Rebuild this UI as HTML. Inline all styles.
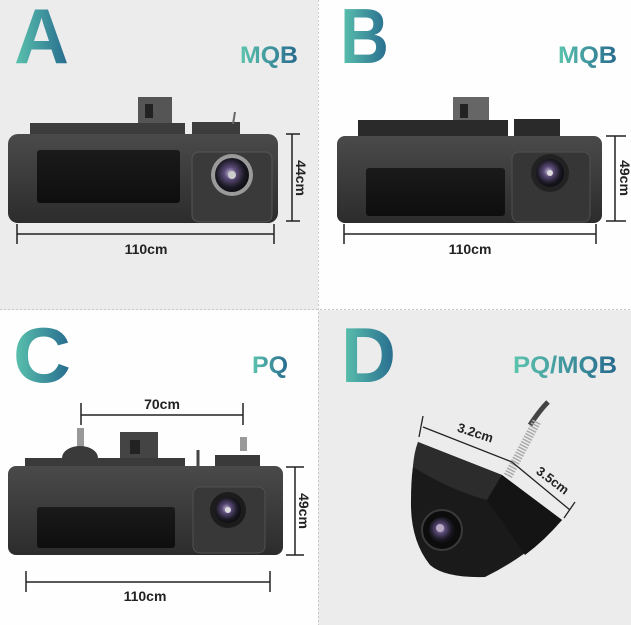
<!DOCTYPE html>
<html><head><meta charset="utf-8"><style>
html,body{margin:0;padding:0;background:#fff}
svg{display:block}
text{font-family:"Liberation Sans",sans-serif;font-weight:bold}
</style></head><body>
<svg width="631" height="625" viewBox="0 0 631 625" xmlns="http://www.w3.org/2000/svg">
<defs>
<linearGradient id="tg" x1="0" y1="0" x2="1" y2="0">
<stop offset="0" stop-color="#5cc4ae"/><stop offset="1" stop-color="#266a8e"/></linearGradient>
<radialGradient id="lens" cx="0.45" cy="0.45" r="0.6">
<stop offset="0" stop-color="#c8c0d8"/><stop offset="0.3" stop-color="#5a4a78"/><stop offset="0.7" stop-color="#1a1822"/><stop offset="1" stop-color="#0a0a0e"/></radialGradient>
<linearGradient id="bodyg" x1="0" y1="0" x2="0" y2="1">
<stop offset="0" stop-color="#4a4a4a"/><stop offset="1" stop-color="#2c2c2c"/></linearGradient>
<linearGradient id="recg" x1="0" y1="0" x2="0" y2="1">
<stop offset="0" stop-color="#1a1a1a"/><stop offset="1" stop-color="#0e0e0e"/></linearGradient>
</defs>
<rect x="0" y="0" width="318" height="310" fill="#ececec"/>
<rect x="318" y="0" width="313" height="310" fill="#fefefe"/>
<rect x="0" y="310" width="318" height="315" fill="#fefefe"/>
<rect x="318" y="310" width="313" height="315" fill="#ececec"/>
<line x1="318.5" y1="0" x2="318.5" y2="625" stroke="#c8c8c8" stroke-dasharray="2,2"/>
<line x1="0" y1="309.5" x2="631" y2="309.5" stroke="#c8c8c8" stroke-dasharray="2,2"/>

<!-- Letters -->
<text x="14" y="63" font-size="78" fill="url(#tg)" textLength="55" lengthAdjust="spacingAndGlyphs">A</text>
<text x="340" y="63" font-size="78" fill="url(#tg)" textLength="49" lengthAdjust="spacingAndGlyphs">B</text>
<text x="13" y="382" font-size="78" fill="url(#tg)" textLength="58" lengthAdjust="spacingAndGlyphs">C</text>
<text x="341" y="382" font-size="78" fill="url(#tg)" textLength="55" lengthAdjust="spacingAndGlyphs">D</text>
<text x="240" y="63" font-size="24" fill="url(#tg)" textLength="58" lengthAdjust="spacingAndGlyphs">MQB</text>
<text x="558" y="63" font-size="24" fill="url(#tg)" textLength="59" lengthAdjust="spacingAndGlyphs">MQB</text>
<text x="252" y="373" font-size="24" fill="url(#tg)" textLength="36" lengthAdjust="spacingAndGlyphs">PQ</text>
<text x="513" y="373" font-size="24" fill="url(#tg)" textLength="104" lengthAdjust="spacingAndGlyphs">PQ/MQB</text>

<!-- A handle -->
<g>
<rect x="138" y="97" width="34" height="30" fill="#555"/>
<rect x="145" y="104" width="8" height="14" fill="#222"/>
<rect x="30" y="123" width="155" height="14" fill="#3c3c3c"/>
<rect x="192" y="122" width="48" height="15" fill="#3c3c3c"/>
<line x1="235" y1="112" x2="233" y2="124" stroke="#666" stroke-width="2"/>
<rect x="8" y="134" width="270" height="89" rx="10" fill="url(#bodyg)"/>
<rect x="37" y="150" width="143" height="53" rx="3" fill="url(#recg)"/>
<rect x="192" y="152" width="80" height="70" rx="7" fill="#3a3a3a" stroke="#555"/>
<circle cx="232" cy="175" r="21" fill="#9a9a9a"/>
<circle cx="232" cy="175" r="17" fill="url(#lens)"/>
<circle cx="232" cy="175" r="4" fill="#ccc"/>
</g>
<g stroke="#222" stroke-width="1.5" fill="none">
<line x1="292" y1="134" x2="292" y2="221"/><line x1="286" y1="134" x2="300" y2="134"/><line x1="286" y1="221" x2="300" y2="221"/>
<line x1="17" y1="234" x2="274" y2="234"/><line x1="17" y1="224" x2="17" y2="244"/><line x1="274" y1="224" x2="274" y2="244"/>
</g>
<text x="146" y="254" font-size="14" fill="#222" text-anchor="middle">110cm</text>
<text transform="translate(296,178) rotate(90)" font-size="14" fill="#222" text-anchor="middle">44cm</text>

<!-- B handle -->
<g>
<rect x="453" y="97" width="36" height="28" fill="#666"/>
<rect x="460" y="104" width="8" height="14" fill="#222"/>
<rect x="358" y="120" width="150" height="17" fill="#2a2a2a"/>
<rect x="514" y="119" width="46" height="18" fill="#2a2a2a"/>
<rect x="337" y="136" width="265" height="87" rx="8" fill="url(#bodyg)"/>
<rect x="366" y="168" width="139" height="48" rx="3" fill="url(#recg)"/>
<rect x="512" y="152" width="78" height="70" rx="7" fill="#363636" stroke="#505050"/>
<circle cx="550" cy="173" r="19" fill="#222"/>
<circle cx="550" cy="173" r="14" fill="url(#lens)"/>
<circle cx="550" cy="173" r="3" fill="#ddd"/>
</g>
<g stroke="#222" stroke-width="1.5" fill="none">
<line x1="615" y1="136" x2="615" y2="221"/><line x1="606" y1="136" x2="626" y2="136"/><line x1="606" y1="221" x2="626" y2="221"/>
<line x1="344" y1="234" x2="596" y2="234"/><line x1="344" y1="224" x2="344" y2="244"/><line x1="596" y1="224" x2="596" y2="244"/>
</g>
<text x="470" y="254" font-size="14" fill="#222" text-anchor="middle">110cm</text>
<text transform="translate(620,178) rotate(90)" font-size="14" fill="#222" text-anchor="middle">49cm</text>

<!-- C handle -->
<g>
<rect x="77" y="428" width="7" height="20" fill="#999"/>
<rect x="240" y="437" width="7" height="14" fill="#999"/>
<ellipse cx="80" cy="458" rx="18" ry="12" fill="#3a3a3a"/>
<rect x="120" y="432" width="38" height="36" fill="#444"/>
<rect x="130" y="440" width="10" height="14" fill="#222"/>
<rect x="25" y="458" width="160" height="12" fill="#3a3a3a"/>
<rect x="215" y="455" width="45" height="15" fill="#3a3a3a"/>
<line x1="198" y1="450" x2="198" y2="466" stroke="#444" stroke-width="3"/>
<rect x="8" y="466" width="275" height="89" rx="8" fill="url(#bodyg)"/>
<rect x="37" y="507" width="138" height="41" rx="3" fill="url(#recg)"/>
<rect x="193" y="487" width="72" height="66" rx="7" fill="#383838" stroke="#505050"/>
<circle cx="228" cy="510" r="18" fill="#1c1c1c"/>
<circle cx="228" cy="510" r="13" fill="url(#lens)"/>
<circle cx="228" cy="510" r="3" fill="#ddd"/>
</g>
<g stroke="#222" stroke-width="1.5" fill="none">
<line x1="81" y1="415" x2="243" y2="415"/><line x1="81" y1="403" x2="81" y2="425"/><line x1="243" y1="403" x2="243" y2="425"/>
<line x1="295" y1="467" x2="295" y2="555"/><line x1="286" y1="467" x2="304" y2="467"/><line x1="286" y1="555" x2="304" y2="555"/>
<line x1="26" y1="582" x2="270" y2="582"/><line x1="26" y1="571" x2="26" y2="592"/><line x1="270" y1="571" x2="270" y2="592"/>
</g>
<text x="162" y="409" font-size="14" fill="#222" text-anchor="middle">70cm</text>
<text x="145" y="601" font-size="14" fill="#222" text-anchor="middle">110cm</text>
<text transform="translate(299,511) rotate(90)" font-size="14" fill="#222" text-anchor="middle">49cm</text>

<!-- D camera -->
<path d="M530,425 Q540,410 548,402" stroke="#444" stroke-width="5" fill="none"/>
<path d="M418,442 L502,475 L562,520 Q530,555 485,577 Q445,578 430,565 Q410,540 411,500 Q411,465 418,442 Z" fill="#1a1a1a"/>
<path d="M418,442 L502,475 L487,500 Q450,490 413,467 Q414,452 418,442 Z" fill="#2c2c2c"/>
<path d="M502,475 L562,520 Q545,540 525,555 L487,500 Z" fill="#141414"/>
<line x1="508" y1="476" x2="537" y2="421" stroke="#aaa" stroke-width="9" stroke-dasharray="1.5,1.5"/>
<circle cx="442" cy="530" r="20" fill="#0c0c0c" stroke="#3a3a3a" stroke-width="2"/>
<circle cx="442" cy="530" r="13" fill="url(#lens)"/>
<circle cx="440" cy="528" r="4" fill="#b9a9c4"/>
<g stroke="#222" stroke-width="1.3" fill="none">
<line x1="423" y1="427" x2="512" y2="462"/><line x1="423" y1="416" x2="419" y2="437"/>
<line x1="512" y1="462" x2="570" y2="510"/><line x1="575" y1="502" x2="564" y2="518"/>
</g>
<text transform="translate(474,437) rotate(18)" font-size="13" fill="#222" text-anchor="middle">3.2cm</text>
<text transform="translate(550,484) rotate(37)" font-size="13" fill="#222" text-anchor="middle">3.5cm</text>
</svg>
</body></html>
